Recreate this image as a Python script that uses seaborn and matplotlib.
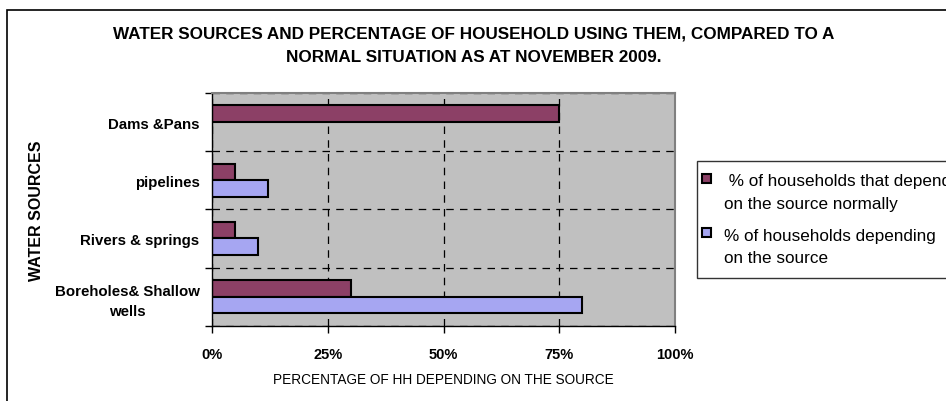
import numpy as np
import pandas as pd
import seaborn as sns
import matplotlib.pyplot as plt
from matplotlib.patches import Rectangle
from matplotlib.legend_handler import HandlerPatch

sources = ['Dams &Pans', 'pipelines', 'Rivers & springs', 'Boreholes& Shallow\nwells']
normal_pct = [75, 5, 5, 30]
depending_pct = [0, 12, 10, 80]
series = [' % of households that depend\non the source normally',
          '% of households depending\non the source']
colors = ['#993366', '#9999FF']
xticks = [0, 25, 50, 75, 100]

df = pd.DataFrame({
    'source': sources * 2,
    'pct': normal_pct + depending_pct,
    'series': [series[0]] * len(sources) + [series[1]] * len(sources),
})

sns.set_style('white', {'text.color': 'black', 'axes.labelcolor': 'black',
                        'xtick.color': 'black', 'ytick.color': 'black'})
plt.rcParams['font.family'] = ['Liberation Sans', 'DejaVu Sans']

fig = plt.figure(figsize=(9.46, 4.02), dpi=100)
ax = fig.add_axes([212 / 946, 1 - 326.7 / 402, 463 / 946, 232.7 / 402])

sns.barplot(data=df, y='source', x='pct', hue='series', order=sources,
            hue_order=series, palette=colors, orient='h', width=0.575,
            gap=0, edgecolor='black', linewidth=1.5, ax=ax, legend=True)

ax.set_facecolor('#C0C0C0')
ax.set_xlim(0, 100)
ax.set_ylim(len(sources) - 0.5, -0.5)

# category labels at centres, ticks/grid at boundaries
ax.set_yticks(np.arange(len(sources) + 1) - 0.5)
ax.set_yticklabels([])
ax.set_yticks(np.arange(len(sources)), minor=True)
ax.set_yticklabels(sources, minor=True, fontsize=10.8, fontweight='bold',
                   multialignment='center', linespacing=1.5)
ax.tick_params(axis='y', which='minor', length=0, pad=9)
ax.tick_params(axis='y', which='major', length=5, width=1, color='black', direction='out', left=True)

ax.set_xticks(xticks)
ax.set_xticklabels([f'{t}%' for t in xticks], fontsize=10.5, fontweight='bold')
ax.tick_params(axis='x', length=5, width=1, color='black', direction='out', bottom=True, pad=10)

ax.grid(True, which='major', color='black', linestyle=(0, (6, 5)), linewidth=0.9)
ax.set_axisbelow(True)

for s in ['left', 'bottom']:
    ax.spines[s].set_color('black')
    ax.spines[s].set_linewidth(1)
for s in ['top', 'right']:
    ax.spines[s].set_color('#808080')
    ax.spines[s].set_linewidth(1.5)

ax.set_xlabel('PERCENTAGE OF HH DEPENDING ON THE SOURCE', fontsize=9.8)
ax.xaxis.set_label_coords(0.5, -(380 - 326.7) / 232.7)
ax.xaxis.label.set_va('center')
ax.set_ylabel('WATER SOURCES', fontsize=11.5, fontweight='bold')
ax.yaxis.set_label_coords(-(212 - 37) / 463, 0.5)
ax.yaxis.label.set_va('center')

fig.text(474 / 946, 1 - 34 / 402, 'WATER SOURCES AND PERCENTAGE OF HOUSEHOLD USING THEM, COMPARED TO A',
         ha='center', va='center', fontsize=12.3, fontweight='bold')
fig.text(474 / 946, 1 - 58 / 402, 'NORMAL SITUATION AS AT NOVEMBER 2009.',
         ha='center', va='center', fontsize=12.3, fontweight='bold')


# small square key next to the first line of each label
def top_square(legend, orig_handle, xdescent, ydescent, width, height, fontsize):
    sq = 0.5 * fontsize
    return Rectangle((-xdescent - 0.45 * fontsize, -ydescent + (height - sq) / 2 + 0.8 * fontsize), sq, sq)


handles, labels = ax.get_legend_handles_labels()
ax.legend_.remove()
leg = fig.legend(handles, labels, loc='upper left',
                 bbox_to_anchor=(697 / 946, 1 - 161.5 / 402), bbox_transform=fig.transFigure,
                 fontsize=12.3, frameon=True, fancybox=False, edgecolor='black',
                 handlelength=0.5, handleheight=0.7, handletextpad=0.35,
                 labelspacing=1.0, borderpad=0.75, borderaxespad=0,
                 handler_map={Rectangle: HandlerPatch(patch_func=top_square)})
leg.get_frame().set_linewidth(1)
for t in leg.get_texts():
    t.set_linespacing(1.6)
for h in leg.legend_handles:
    h.set_edgecolor('black')
    h.set_linewidth(1.5)

fig.patches.append(Rectangle((7 / 946, -0.1), 1.2, 1 - 11 / 402 + 0.1,
                             transform=fig.transFigure, fill=False,
                             edgecolor='black', linewidth=1.2))

fig.savefig('out.png', dpi=100)
